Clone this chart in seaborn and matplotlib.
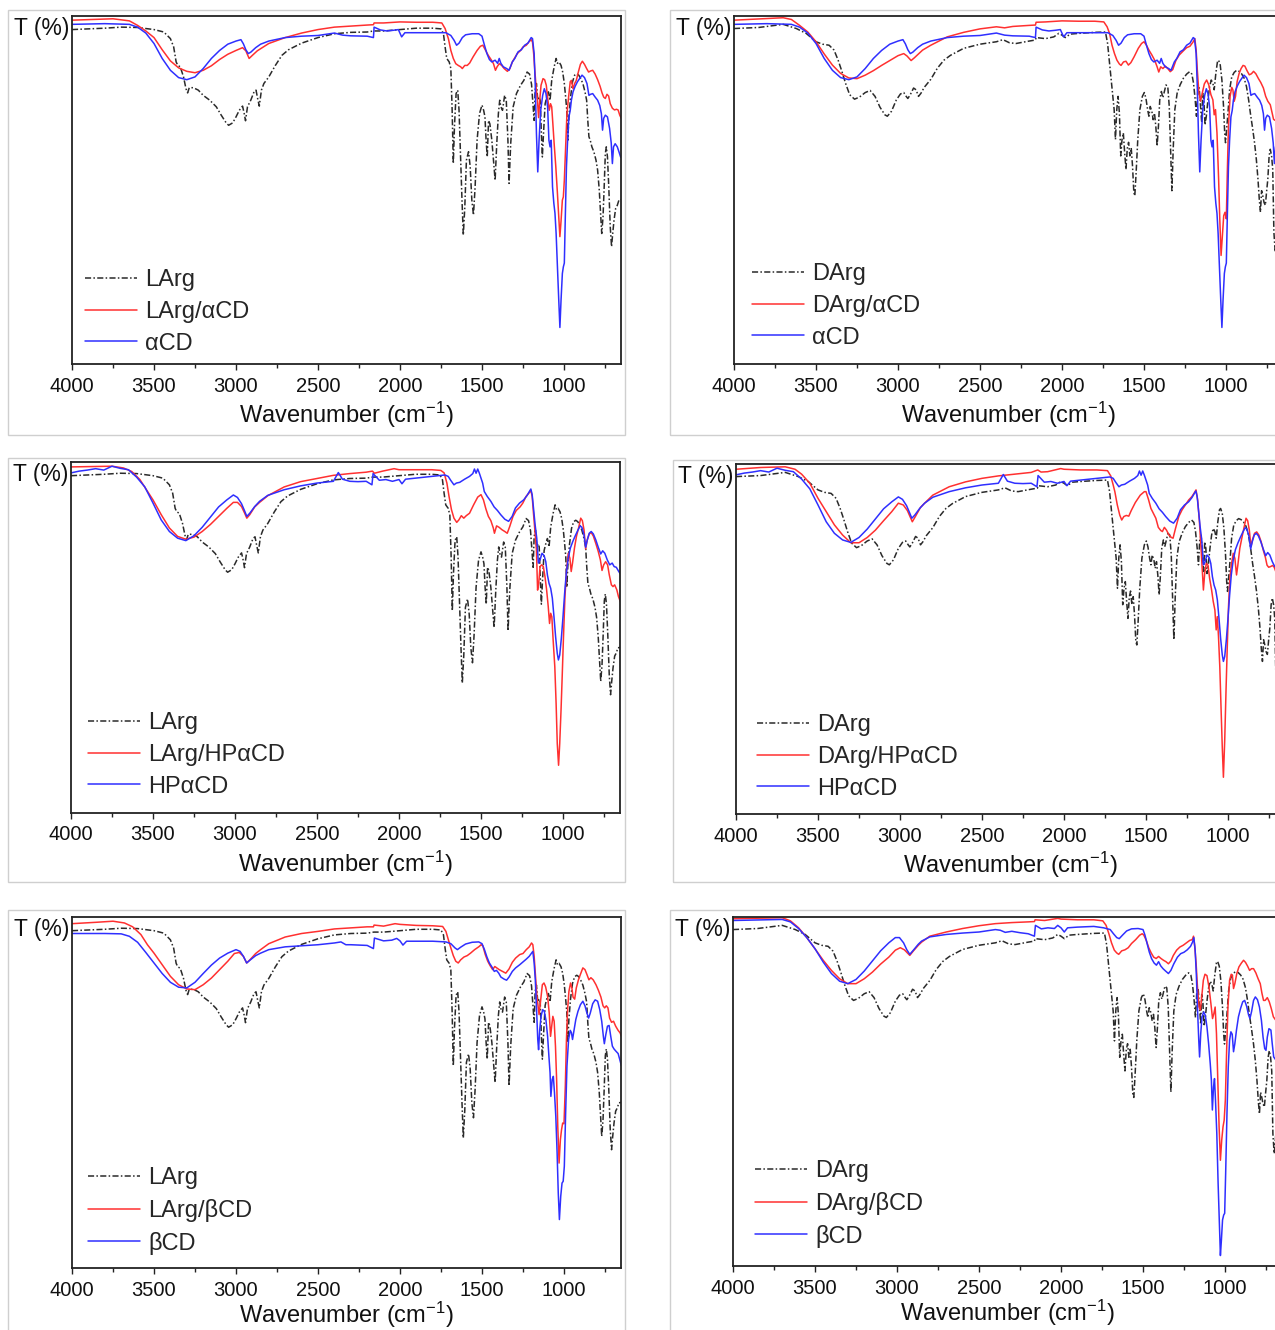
import matplotlib
matplotlib.use("Agg")
import matplotlib.pyplot as plt
import seaborn as sns
from matplotlib.ticker import MultipleLocator
from matplotlib.patches import Rectangle

# ---------------- data (wavenumber cm-1, transmittance in % of panel height) ----------------
LARG = [(4000, 96.1), (3800, 96.5), (3700, 96.8), (3600, 96.7), (3500, 96.1), (3440, 95.4), (3400, 93.5),
        (3380, 91.1), (3365, 86.8), (3355, 85.8), (3340, 85.4), (3320, 82.5), (3305, 79.1), (3295, 77.9),
        (3285, 79.4), (3260, 79.4), (3230, 78.7), (3200, 77.2), (3160, 75.8), (3120, 73.9), (3090, 71.5),
        (3060, 69.3), (3045, 68.6), (3020, 69.3), (3000, 71.0), (2980, 72.9), (2960, 74.1), (2950, 72.0),
        (2942, 69.9), (2930, 73.9), (2910, 75.8), (2890, 78.2), (2878, 78.7), (2868, 76.3), (2858, 74.1),
        (2845, 78.7), (2830, 80.6), (2800, 82.5), (2760, 85.8), (2720, 88.7), (2680, 90.3), (2600, 92.2),
        (2500, 93.8), (2400, 94.9), (2300, 95.3), (2200, 95.4), (2160, 95.7), (2100, 95.7), (2000, 96.1),
        (1900, 96.5), (1800, 96.5), (1750, 96.3), (1735, 94.9), (1725, 91.1), (1715, 87.8), (1700, 86.8),
        (1690, 84.9), (1682, 72.9), (1675, 57.6), (1668, 68.1), (1658, 77.7), (1648, 78.7), (1640, 72.9),
        (1630, 58.6), (1622, 47.1), (1614, 37.0), (1605, 44.9), (1595, 58.6), (1582, 61.0), (1572, 56.7),
        (1562, 47.1), (1552, 42.8), (1542, 50.9), (1530, 64.3), (1515, 72.0), (1500, 74.4), (1490, 72.9),
        (1482, 71.0), (1475, 64.3), (1468, 59.5), (1460, 70.0), (1452, 69.0), (1440, 64.3), (1430, 58.6),
        (1420, 52.8), (1410, 63.3), (1400, 72.0), (1392, 75.8), (1385, 73.9), (1375, 72.9), (1362, 77.2),
        (1352, 75.8), (1342, 64.3), (1335, 51.9), (1325, 63.3), (1310, 73.9), (1290, 77.7), (1265, 80.1),
        (1245, 81.5), (1225, 83.9), (1210, 83.3), (1198, 80.4), (1188, 73.9), (1182, 70.0), (1176, 78.7),
        (1168, 80.6), (1160, 75.8), (1152, 76.7), (1145, 75.8), (1138, 66.2), (1132, 59.5), (1125, 66.2),
        (1115, 74.8), (1105, 76.7), (1095, 78.2), (1085, 75.8), (1075, 81.5), (1060, 85.4), (1048, 87.8),
        (1040, 86.4), (1030, 86.8), (1018, 85.8), (1008, 83.9), (998, 80.6), (990, 76.7), (983, 72.9),
        (977, 64.3), (970, 71.0), (960, 76.7), (948, 81.1), (935, 83.0), (922, 83.4), (910, 83.0),
        (898, 82.0), (885, 80.6), (872, 78.2), (862, 75.8), (855, 70.0), (848, 65.3), (840, 64.3),
        (830, 62.4), (818, 61.0), (805, 58.6), (795, 55.7), (785, 50.0), (777, 43.3), (770, 37.5),
        (762, 42.3), (755, 50.9), (748, 60.5), (742, 62.4), (735, 59.5), (727, 50.9), (718, 39.4),
        (710, 33.7), (703, 37.5), (695, 41.3), (685, 44.7), (675, 45.6), (665, 47.1), (655, 47.1), (650, 47.3)]

DARG = [(4000, 96.4), (3850, 96.7), (3700, 97.6), (3620, 96.4), (3560, 95.0), (3500, 92.6), (3460, 91.9),
        (3420, 91.6), (3390, 90.2), (3365, 87.3), (3345, 84.5), (3320, 80.7), (3295, 77.4), (3265, 76.1),
        (3235, 76.7), (3200, 78.0), (3170, 78.6), (3140, 76.9), (3110, 73.8), (3080, 71.6), (3065, 71.2),
        (3040, 72.6), (3010, 75.9), (2985, 77.6), (2965, 78.0), (2950, 76.9), (2940, 76.3), (2925, 77.4),
        (2905, 79.3), (2890, 78.8), (2875, 76.9), (2860, 77.8), (2840, 79.5), (2800, 81.8), (2760, 85.0),
        (2720, 87.3), (2680, 88.7), (2600, 90.7), (2500, 91.9), (2400, 92.6), (2360, 93.2), (2320, 92.3),
        (2280, 92.1), (2200, 92.8), (2162, 93.1), (2158, 93.8), (2100, 93.5), (2050, 94.0), (2020, 95.0),
        (2000, 94.5), (1980, 93.8), (1950, 94.8), (1900, 95.0), (1800, 95.3), (1735, 95.4), (1722, 92.1),
        (1712, 87.3), (1702, 82.6), (1692, 77.8), (1682, 73.1), (1674, 64.5), (1666, 73.1), (1658, 76.9),
        (1650, 72.1), (1642, 59.8), (1634, 64.5), (1626, 66.4), (1618, 60.7), (1610, 55.9), (1602, 61.9),
        (1594, 63.7), (1586, 59.8), (1578, 62.1), (1570, 56.9), (1562, 49.3), (1556, 48.3), (1548, 55.0),
        (1538, 64.5), (1525, 73.1), (1510, 76.9), (1498, 78.0), (1488, 76.3), (1478, 73.1), (1470, 71.2),
        (1462, 74.0), (1452, 72.6), (1444, 70.2), (1436, 72.1), (1428, 68.3), (1420, 62.6), (1412, 68.3),
        (1404, 75.9), (1394, 78.3), (1385, 76.5), (1376, 78.3), (1366, 80.2), (1355, 79.7), (1346, 74.0),
        (1338, 61.7), (1330, 49.8), (1322, 61.7), (1312, 73.1), (1298, 77.8), (1280, 80.2), (1260, 82.1),
        (1240, 83.3), (1222, 84.0), (1208, 83.3), (1198, 80.7), (1188, 76.0), (1180, 71.2), (1172, 78.6),
        (1164, 79.6), (1155, 73.8), (1148, 69.3), (1142, 77.8), (1135, 75.9), (1128, 68.7), (1120, 71.2),
        (1110, 75.9), (1100, 79.7), (1090, 81.6), (1080, 80.7), (1072, 78.8), (1062, 83.5), (1052, 86.9),
        (1045, 87.3), (1035, 85.9), (1025, 81.6), (1015, 74.0), (1008, 66.4), (1003, 63.6), (995, 68.3),
        (988, 72.1), (978, 78.8), (965, 82.5), (950, 83.8), (935, 84.4), (920, 84.1), (905, 83.4),
        (890, 82.2), (875, 79.7), (862, 75.9), (850, 71.6), (838, 67.8), (826, 63.6), (815, 58.8),
        (805, 53.1), (797, 47.3), (790, 43.6), (783, 49.8), (776, 48.4), (768, 46.4), (760, 45.6),
        (752, 49.8), (745, 53.1), (737, 59.8), (730, 61.7), (722, 59.8), (715, 55.9), (708, 37.9),
        (700, 32.2), (690, 37.9), (675, 43.6), (660, 45.5), (650, 46.0)]

ACD = [(4000, 97.6), (3800, 97.8), (3650, 97.6), (3600, 96.8), (3550, 95.1), (3500, 92.1), (3450, 87.8),
       (3400, 84.4), (3350, 82.3), (3300, 81.7), (3250, 82.5), (3200, 84.9), (3150, 87.8), (3100, 90.1),
       (3050, 91.9), (3000, 92.8), (2970, 93.2), (2955, 92.0), (2940, 90.3), (2925, 89.2), (2910, 89.6),
       (2880, 90.9), (2850, 91.9), (2800, 92.8), (2700, 93.8), (2600, 94.2), (2500, 94.4), (2400, 95.1),
       (2350, 94.5), (2300, 94.3), (2200, 94.2), (2162, 93.8), (2158, 96.8), (2120, 96.0), (2080, 95.7),
       (2040, 95.9), (2010, 96.1), (1990, 94.0), (1970, 95.2), (1900, 95.2), (1800, 95.2), (1720, 95.2),
       (1690, 94.4), (1670, 93.0), (1655, 91.6), (1640, 92.2), (1620, 93.8), (1600, 94.6), (1560, 94.9),
       (1520, 94.9), (1500, 94.2), (1485, 91.6), (1470, 89.2), (1455, 87.5), (1440, 86.8), (1420, 87.3),
       (1405, 86.4), (1395, 87.8), (1385, 86.4), (1370, 85.4), (1350, 84.9), (1335, 84.4), (1315, 86.8),
       (1300, 87.8), (1280, 89.7), (1260, 90.3), (1240, 91.6), (1220, 92.2), (1200, 93.8), (1192, 93.5),
       (1182, 89.2), (1175, 79.6), (1168, 66.2), (1160, 55.2), (1152, 64.3), (1142, 72.9), (1130, 77.2),
       (1120, 79.1), (1110, 77.7), (1100, 73.9), (1092, 64.3), (1085, 62.4), (1078, 64.3), (1070, 50.9),
       (1062, 46.2), (1055, 43.3), (1048, 37.5), (1040, 27.9), (1032, 18.4), (1025, 10.5), (1018, 18.4),
       (1010, 26.0), (1004, 27.9), (998, 29.0), (992, 42.3), (985, 56.7), (978, 64.3), (970, 71.0),
       (962, 72.9), (955, 75.8), (945, 78.2), (932, 79.8), (918, 81.1), (905, 82.0), (890, 83.0),
       (875, 82.3), (860, 80.6), (848, 77.2), (838, 77.5), (825, 77.7), (810, 76.7), (795, 75.8),
       (782, 74.3), (772, 71.9), (765, 67.2), (758, 70.6), (748, 71.5), (735, 71.0), (722, 67.7),
       (712, 63.5), (705, 57.6), (698, 62.4), (688, 63.3), (675, 62.4), (665, 61.0), (655, 59.5), (650, 59.3)]

LARG_ACD = [(4000, 98.8), (3750, 99.2), (3650, 98.6), (3600, 97.3), (3550, 95.7), (3500, 93.8), (3450, 90.3),
            (3400, 87.1), (3350, 85.1), (3300, 84.1), (3250, 83.7), (3200, 84.4), (3150, 85.7), (3100, 87.5),
            (3050, 89.0), (3000, 90.1), (2960, 90.9), (2940, 90.0), (2920, 87.8), (2900, 88.7), (2870, 90.0),
            (2850, 90.6), (2800, 92.1), (2700, 93.8), (2600, 95.1), (2500, 96.1), (2400, 96.8), (2300, 97.1),
            (2200, 97.4), (2162, 97.5), (2158, 98.0), (2100, 98.0), (2000, 98.3), (1900, 98.2), (1800, 98.2),
            (1745, 98.0), (1725, 96.4), (1705, 93.5), (1690, 90.1), (1675, 87.8), (1660, 86.3), (1645, 85.8),
            (1630, 85.4), (1620, 84.9), (1605, 85.8), (1590, 85.8), (1575, 86.5), (1555, 88.2), (1530, 90.1),
            (1510, 91.3), (1495, 91.6), (1480, 90.3), (1462, 88.7), (1445, 87.5), (1430, 86.3), (1418, 84.4),
            (1408, 85.4), (1395, 86.3), (1380, 85.8), (1365, 84.9), (1345, 84.1), (1330, 84.9), (1315, 86.8),
            (1300, 88.0), (1285, 89.2), (1265, 90.1), (1250, 91.1), (1230, 91.6), (1215, 92.5), (1200, 93.2),
            (1192, 92.5), (1185, 89.2), (1178, 84.4), (1170, 79.6), (1162, 75.8), (1155, 70.8), (1148, 75.8),
            (1140, 80.1), (1128, 82.0), (1118, 81.7), (1108, 80.1), (1098, 75.8), (1090, 72.9), (1082, 74.8),
            (1075, 73.9), (1068, 69.1), (1060, 63.3), (1050, 56.7), (1040, 49.0), (1032, 42.3), (1025, 36.6),
            (1018, 41.1), (1010, 47.1), (1004, 48.0), (998, 52.8), (990, 62.4), (982, 72.0), (972, 76.7),
            (962, 81.1), (955, 81.5), (945, 79.1), (935, 80.6), (925, 81.5), (912, 84.0), (900, 86.1),
            (888, 87.0), (875, 86.1), (862, 84.9), (850, 83.9), (838, 84.2), (825, 84.4), (810, 83.3),
            (795, 81.7), (780, 79.8), (768, 77.9), (758, 76.7), (748, 76.3), (738, 77.5), (728, 77.0),
            (718, 74.8), (705, 73.5), (692, 73.0), (680, 73.2), (670, 73.0), (660, 71.5), (650, 70.5)]

DARG_ACD = [(4000, 98.8), (3700, 99.5), (3650, 99.0), (3600, 97.3), (3550, 95.4), (3500, 92.6), (3450, 89.1),
            (3400, 85.9), (3350, 83.5), (3300, 82.2), (3250, 82.0), (3200, 83.0), (3150, 84.3), (3100, 85.8),
            (3050, 87.2), (3000, 88.6), (2965, 89.2), (2945, 88.5), (2920, 87.2), (2900, 88.0), (2850, 90.2),
            (2800, 91.6), (2700, 94.0), (2600, 95.3), (2500, 96.3), (2400, 96.9), (2350, 96.6), (2300, 97.0),
            (2200, 97.3), (2162, 97.4), (2158, 98.2), (2100, 98.3), (2000, 98.6), (1900, 98.5), (1800, 98.5),
            (1745, 98.3), (1725, 96.9), (1710, 95.0), (1695, 91.6), (1680, 89.2), (1665, 87.3), (1650, 86.2),
            (1640, 85.8), (1625, 86.8), (1610, 87.0), (1595, 85.9), (1580, 86.6), (1560, 88.3), (1535, 90.7),
            (1515, 92.1), (1500, 92.6), (1485, 91.6), (1470, 90.2), (1452, 88.8), (1435, 87.3), (1420, 85.4),
            (1410, 83.9), (1398, 85.4), (1385, 84.9), (1370, 85.6), (1355, 84.9), (1340, 84.0), (1325, 84.6),
            (1305, 87.3), (1285, 88.8), (1260, 90.0), (1240, 90.9), (1220, 91.3), (1200, 92.6), (1190, 93.5),
            (1182, 90.2), (1175, 84.5), (1165, 77.8), (1155, 75.5), (1145, 77.8), (1132, 80.5), (1118, 81.6),
            (1105, 80.2), (1092, 77.4), (1080, 75.9), (1072, 71.6), (1064, 73.1), (1055, 66.4), (1045, 53.1),
            (1038, 41.7), (1030, 31.2), (1022, 36.9), (1014, 42.6), (1006, 43.6), (998, 41.7), (992, 55.0),
            (985, 68.3), (975, 76.9), (965, 79.5), (958, 78.8), (950, 75.5), (942, 76.9), (932, 81.2),
            (920, 83.5), (908, 84.9), (896, 85.8), (885, 85.6), (872, 84.3), (858, 83.1), (845, 83.4),
            (832, 84.1), (818, 83.4), (802, 82.0), (788, 80.9), (772, 79.3), (758, 76.9), (745, 75.5),
            (730, 74.5), (718, 72.0), (710, 70.3), (700, 70.0), (680, 70.5), (665, 70.0), (650, 69.5)]

HPACD = [(4000, 96.9), (3950, 97.4), (3900, 97.7), (3850, 98.1), (3800, 97.7), (3750, 98.8), (3700, 98.2),
         (3650, 97.8), (3600, 95.7), (3550, 92.9), (3500, 88.3), (3450, 83.5), (3400, 80.2), (3350, 78.3),
         (3300, 77.6), (3250, 79.0), (3200, 81.4), (3150, 84.3), (3100, 87.2), (3050, 89.2), (3010, 90.6),
         (2985, 89.9), (2960, 88.1), (2940, 85.9), (2928, 84.5), (2910, 85.4), (2880, 87.3), (2850, 88.8),
         (2800, 90.5), (2700, 92.1), (2600, 93.2), (2500, 94.0), (2400, 94.5), (2370, 97.0), (2345, 95.1),
         (2300, 94.5), (2250, 94.4), (2200, 94.5), (2165, 93.5), (2158, 96.7), (2120, 94.8), (2080, 95.0),
         (2040, 94.5), (2000, 95.0), (1982, 93.8), (1960, 95.1), (1900, 95.4), (1800, 95.9), (1720, 96.3),
         (1700, 95.9), (1685, 94.8), (1665, 93.5), (1650, 94.0), (1630, 94.2), (1600, 95.1), (1570, 95.9),
         (1550, 96.7), (1540, 98.0), (1530, 96.8), (1520, 98.0), (1510, 96.8), (1500, 95.4), (1490, 94.0),
         (1480, 91.6), (1462, 90.2), (1440, 88.8), (1420, 87.2), (1400, 86.2), (1380, 85.0), (1355, 83.7),
         (1332, 83.1), (1310, 84.5), (1290, 86.9), (1265, 88.3), (1240, 89.2), (1220, 90.4), (1205, 91.6),
         (1196, 92.3), (1188, 90.7), (1180, 86.9), (1170, 82.1), (1160, 78.3), (1150, 71.2), (1140, 72.1),
         (1128, 74.0), (1115, 73.3), (1105, 71.6), (1095, 67.8), (1085, 65.4), (1075, 64.0), (1065, 61.2),
         (1055, 55.9), (1045, 50.2), (1035, 45.5), (1028, 43.6), (1020, 45.0), (1010, 49.8), (1000, 55.9),
         (990, 62.6), (980, 68.3), (968, 72.6), (955, 75.5), (940, 77.4), (925, 79.0), (910, 80.5),
         (895, 81.8), (885, 81.4), (872, 79.3), (862, 75.7), (852, 77.8), (840, 79.7), (828, 80.2),
         (815, 79.5), (800, 77.8), (785, 75.7), (770, 73.8), (758, 74.7), (745, 74.0), (730, 72.1),
         (715, 70.7), (700, 71.2), (688, 70.2), (675, 70.0), (660, 68.8), (650, 68.1)]

LARG_HPACD = [(4000, 98.6), (3750, 98.8), (3680, 98.3), (3630, 97.3), (3580, 95.0), (3540, 92.1), (3500, 89.2),
              (3450, 85.0), (3400, 81.2), (3350, 78.8), (3300, 78.0), (3250, 78.6), (3200, 80.2), (3150, 82.2),
              (3100, 84.5), (3050, 86.8), (3010, 88.5), (2985, 88.5), (2960, 87.3), (2940, 85.3), (2928, 84.0),
              (2910, 85.0), (2880, 87.2), (2850, 88.5), (2800, 90.4), (2700, 92.9), (2600, 94.4), (2500, 95.3),
              (2400, 96.2), (2300, 96.7), (2200, 97.1), (2162, 97.4), (2150, 96.8), (2100, 97.4), (2030, 98.1),
              (2000, 97.8), (1900, 97.8), (1800, 97.8), (1745, 97.6), (1725, 96.9), (1708, 94.0), (1695, 90.2),
              (1680, 86.4), (1665, 84.0), (1648, 82.8), (1635, 83.5), (1620, 84.7), (1605, 84.0), (1590, 84.7),
              (1570, 85.4), (1545, 87.8), (1520, 90.0), (1500, 90.7), (1485, 89.2), (1470, 86.6), (1455, 84.5),
              (1440, 83.3), (1425, 81.2), (1418, 79.7), (1405, 81.8), (1390, 81.4), (1372, 80.7), (1355, 80.2),
              (1340, 79.7), (1325, 81.6), (1305, 84.5), (1285, 86.2), (1262, 87.2), (1245, 88.3), (1225, 90.2),
              (1205, 91.3), (1196, 91.9), (1188, 90.2), (1180, 85.4), (1170, 79.7), (1162, 75.0), (1155, 63.5),
              (1148, 65.4), (1140, 70.2), (1130, 70.7), (1120, 70.2), (1110, 67.4), (1100, 63.6), (1090, 58.8),
              (1082, 54.0), (1075, 56.9), (1068, 55.9), (1060, 49.2), (1050, 41.7), (1042, 31.2), (1035, 19.8),
              (1027, 13.6), (1020, 19.8), (1012, 29.3), (1005, 38.8), (997, 50.2), (988, 61.7), (978, 69.3),
              (968, 74.0), (958, 72.6), (950, 68.8), (942, 71.2), (930, 75.5), (918, 78.8), (905, 81.2),
              (892, 84.0), (882, 83.3), (872, 80.7), (862, 75.2), (852, 77.8), (840, 79.5), (828, 79.9),
              (815, 78.9), (800, 76.8), (785, 74.5), (772, 72.1), (762, 69.1), (752, 70.7), (740, 71.6),
              (728, 70.7), (718, 67.9), (705, 65.0), (695, 64.5), (685, 65.0), (672, 63.6), (662, 61.7), (650, 60.2)]

DARG_HPACD = [(4000, 98.5), (3850, 99.0), (3700, 99.2), (3640, 98.5), (3600, 97.1), (3550, 94.5), (3500, 90.2),
              (3450, 86.4), (3400, 82.6), (3350, 79.7), (3300, 77.5), (3250, 77.5), (3200, 79.0), (3150, 81.1),
              (3100, 83.8), (3050, 86.4), (3010, 88.8), (2980, 88.3), (2955, 86.7), (2925, 83.5), (2905, 85.1),
              (2875, 87.6), (2850, 88.8), (2800, 91.1), (2700, 93.5), (2600, 94.9), (2500, 95.9), (2400, 96.6),
              (2300, 97.1), (2200, 97.6), (2160, 98.3), (2140, 97.7), (2100, 97.8), (2020, 98.7), (2000, 98.5),
              (1900, 98.3), (1800, 98.3), (1735, 98.1), (1715, 96.6), (1700, 94.0), (1690, 92.1), (1675, 88.3),
              (1660, 85.4), (1648, 84.0), (1635, 85.0), (1620, 85.3), (1605, 85.1), (1590, 86.7), (1565, 89.0),
              (1535, 91.1), (1510, 92.1), (1500, 92.1), (1485, 89.9), (1470, 87.3), (1455, 85.9), (1440, 84.5),
              (1425, 81.9), (1410, 81.0), (1400, 80.7), (1388, 81.9), (1375, 81.1), (1360, 79.7), (1345, 79.0),
              (1335, 78.8), (1320, 81.6), (1300, 85.0), (1280, 86.9), (1260, 88.3), (1240, 89.7), (1220, 90.7),
              (1205, 91.8), (1195, 92.6), (1185, 89.7), (1175, 84.0), (1165, 76.4), (1158, 70.7), (1150, 64.0),
              (1142, 68.8), (1132, 71.6), (1122, 71.1), (1112, 67.3), (1100, 64.0), (1090, 60.7), (1080, 58.3),
              (1072, 52.6), (1065, 56.4), (1058, 50.7), (1050, 42.1), (1042, 29.7), (1035, 19.2), (1028, 10.5),
              (1020, 21.1), (1012, 35.4), (1005, 46.9), (997, 59.2), (988, 67.8), (978, 71.6), (968, 74.5),
              (958, 73.0), (948, 68.3), (940, 71.1), (928, 75.9), (915, 79.0), (902, 81.9), (890, 84.5),
              (880, 83.8), (870, 81.1), (860, 76.4), (850, 78.5), (838, 80.2), (825, 80.6), (812, 79.7),
              (798, 77.8), (785, 75.4), (772, 73.3), (762, 71.1), (752, 70.5), (740, 70.7), (728, 71.0),
              (718, 70.5), (705, 68.8), (690, 66.0), (670, 64.0), (650, 61.1)]

BCD_L = [(4000, 95.3), (3800, 95.3), (3700, 95.2), (3650, 94.5), (3600, 92.8), (3550, 89.9), (3500, 86.9),
         (3450, 83.9), (3400, 81.4), (3350, 80.0), (3300, 79.8), (3250, 81.4), (3200, 83.9), (3150, 86.3),
         (3100, 88.3), (3050, 89.7), (3000, 90.7), (2975, 90.2), (2955, 88.8), (2935, 86.9), (2915, 87.7),
         (2880, 89.0), (2850, 89.7), (2800, 90.7), (2700, 91.5), (2600, 91.8), (2500, 92.1), (2400, 92.6),
         (2360, 92.9), (2330, 92.1), (2300, 92.1), (2200, 91.9), (2162, 91.0), (2156, 94.0), (2100, 93.2),
         (2050, 93.4), (2020, 93.9), (2000, 93.2), (1982, 92.0), (1960, 93.1), (1900, 93.1), (1800, 93.1),
         (1720, 92.9), (1690, 92.4), (1665, 91.2), (1650, 90.7), (1630, 91.4), (1600, 92.3), (1560, 92.8),
         (1520, 92.9), (1500, 92.4), (1485, 90.7), (1470, 88.6), (1455, 86.9), (1440, 85.8), (1425, 84.5),
         (1412, 84.8), (1398, 84.0), (1385, 82.9), (1365, 82.3), (1350, 82.0), (1335, 82.9), (1315, 84.5),
         (1295, 85.5), (1270, 86.4), (1250, 87.2), (1230, 88.0), (1212, 88.8), (1198, 89.7), (1190, 90.2),
         (1182, 86.9), (1175, 82.1), (1168, 74.5), (1160, 65.1), (1155, 62.2), (1148, 67.9), (1140, 71.7),
         (1130, 73.6), (1120, 73.1), (1110, 70.6), (1100, 66.0), (1092, 60.3), (1085, 55.6), (1080, 48.9),
         (1072, 53.7), (1065, 54.6), (1058, 49.9), (1050, 43.2), (1042, 32.8), (1035, 21.4), (1028, 13.8),
         (1020, 20.4), (1012, 24.2), (1005, 24.7), (998, 29.0), (990, 44.2), (982, 57.5), (972, 65.1),
         (962, 67.7), (955, 67.1), (948, 65.1), (940, 67.4), (928, 70.8), (915, 73.1), (900, 75.0),
         (885, 76.0), (872, 74.7), (860, 72.6), (850, 71.2), (840, 72.6), (825, 75.3), (810, 76.4),
         (795, 76.0), (782, 73.6), (770, 70.3), (760, 66.0), (754, 63.9), (745, 66.5), (735, 68.9),
         (725, 69.1), (715, 66.0), (705, 63.2), (695, 62.4), (682, 61.7), (670, 61.1), (660, 59.4), (650, 57.6)]

LARG_BCD = [(4000, 98.1), (3850, 98.5), (3750, 98.8), (3680, 98.3), (3630, 97.2), (3580, 95.0), (3540, 92.1),
            (3500, 89.7), (3450, 86.4), (3400, 83.1), (3350, 80.7), (3300, 79.5), (3250, 79.3), (3200, 80.7),
            (3150, 82.6), (3100, 85.0), (3050, 87.4), (3010, 89.6), (2980, 89.9), (2955, 88.8), (2935, 86.9),
            (2915, 87.8), (2880, 89.6), (2850, 90.7), (2800, 92.4), (2700, 94.3), (2600, 95.3), (2500, 95.9),
            (2400, 96.6), (2300, 96.9), (2200, 97.2), (2162, 97.2), (2158, 97.7), (2100, 97.4), (2030, 98.1),
            (2000, 97.9), (1900, 97.6), (1800, 97.5), (1740, 97.3), (1720, 95.9), (1705, 93.5), (1690, 91.2),
            (1675, 89.0), (1660, 87.4), (1645, 86.9), (1630, 87.8), (1610, 88.6), (1590, 89.0), (1570, 89.7),
            (1545, 90.7), (1520, 91.5), (1505, 92.1), (1495, 91.8), (1480, 89.3), (1465, 87.4), (1450, 86.1),
            (1435, 85.0), (1422, 85.9), (1410, 85.5), (1395, 85.0), (1375, 84.5), (1355, 84.0), (1335, 85.2),
            (1315, 87.1), (1295, 88.3), (1270, 89.3), (1250, 89.6), (1230, 90.7), (1212, 91.5), (1198, 92.6),
            (1190, 92.1), (1182, 88.8), (1175, 84.0), (1165, 77.4), (1152, 72.2), (1142, 76.4), (1132, 80.7),
            (1122, 81.2), (1112, 80.1), (1100, 77.4), (1090, 72.6), (1082, 66.0), (1075, 68.9), (1068, 71.7),
            (1060, 70.3), (1052, 63.2), (1045, 53.7), (1038, 40.4), (1030, 29.9), (1022, 36.6), (1015, 39.4),
            (1008, 41.3), (1000, 41.1), (992, 51.8), (985, 65.1), (978, 73.6), (970, 78.8), (960, 81.2),
            (952, 79.8), (945, 77.2), (935, 76.6), (925, 79.8), (912, 82.1), (898, 83.9), (885, 85.5),
            (872, 85.0), (860, 83.6), (848, 82.1), (836, 82.7), (822, 82.1), (805, 80.7), (790, 79.1),
            (775, 77.2), (762, 74.7), (752, 74.1), (742, 74.7), (732, 74.1), (722, 71.2), (710, 70.0),
            (698, 70.3), (685, 68.9), (670, 67.7), (658, 67.0), (650, 66.0)]

BCD_D = [(4000, 99.0), (3800, 99.2), (3700, 99.3), (3650, 98.6), (3600, 96.7), (3550, 94.1), (3500, 90.9),
         (3450, 87.1), (3400, 83.8), (3350, 81.6), (3300, 80.9), (3250, 82.1), (3200, 84.5), (3150, 87.4),
         (3100, 90.3), (3050, 92.6), (3010, 94.1), (2985, 94.1), (2960, 92.6), (2940, 90.6), (2922, 89.3),
         (2900, 90.5), (2870, 92.2), (2850, 93.1), (2800, 94.3), (2700, 95.0), (2600, 95.4), (2500, 95.7),
         (2400, 96.4), (2370, 96.2), (2340, 95.6), (2300, 95.9), (2250, 95.5), (2200, 95.2), (2162, 94.5),
         (2156, 97.6), (2120, 96.6), (2080, 96.9), (2040, 96.7), (2020, 97.6), (2000, 96.9), (1980, 95.7),
         (1960, 96.9), (1900, 97.1), (1800, 97.3), (1740, 96.9), (1700, 96.4), (1680, 95.2), (1660, 94.1),
         (1645, 93.8), (1625, 94.8), (1600, 96.0), (1570, 96.6), (1530, 96.7), (1500, 96.4), (1488, 94.8),
         (1475, 92.4), (1462, 90.0), (1448, 88.1), (1432, 86.8), (1418, 86.2), (1405, 87.2), (1392, 86.0),
         (1378, 85.2), (1362, 84.5), (1345, 83.8), (1330, 84.7), (1312, 86.6), (1290, 88.5), (1270, 89.5),
         (1250, 89.9), (1230, 90.6), (1210, 91.6), (1198, 92.8), (1190, 94.1), (1182, 90.5), (1175, 83.8),
         (1168, 74.2), (1160, 64.7), (1155, 59.9), (1148, 66.6), (1140, 71.4), (1130, 72.8), (1120, 71.8),
         (1110, 68.5), (1100, 63.7), (1090, 58.0), (1083, 53.2), (1077, 44.7), (1070, 51.3), (1064, 53.7),
         (1058, 47.5), (1050, 38.0), (1042, 23.7), (1035, 13.2), (1028, 3.0), (1022, 7.4), (1015, 13.2),
         (1008, 14.6), (1002, 15.1), (996, 26.5), (988, 43.7), (980, 57.1), (972, 64.7), (964, 67.1),
         (956, 66.4), (948, 61.4), (940, 63.7), (930, 67.6), (918, 71.4), (905, 73.8), (892, 75.7),
         (880, 76.1), (868, 74.4), (856, 71.9), (848, 70.9), (838, 72.9), (826, 76.1), (815, 77.1),
         (802, 76.3), (790, 74.2), (778, 70.4), (768, 65.6), (758, 62.3), (750, 61.8), (742, 65.6),
         (732, 68.0), (720, 67.6), (712, 63.7), (703, 59.9), (690, 59.0), (670, 58.0), (650, 57.1)]

DARG_BCD = [(4000, 99.5), (3700, 99.8), (3650, 98.9), (3600, 96.9), (3550, 94.1), (3500, 90.9), (3450, 87.6),
            (3400, 84.7), (3350, 82.3), (3300, 80.9), (3250, 80.9), (3200, 82.3), (3150, 84.2), (3100, 86.5),
            (3050, 88.5), (3010, 90.5), (2980, 91.2), (2955, 90.6), (2922, 89.0), (2900, 90.3), (2870, 91.9),
            (2850, 92.8), (2800, 94.5), (2700, 95.7), (2600, 96.7), (2500, 97.5), (2400, 98.1), (2300, 98.4),
            (2200, 98.6), (2162, 98.7), (2158, 99.2), (2100, 99.0), (2020, 99.6), (2000, 99.4), (1900, 99.2),
            (1800, 99.2), (1745, 98.9), (1725, 97.6), (1708, 95.2), (1692, 92.6), (1675, 90.5), (1660, 89.7),
            (1648, 89.3), (1630, 90.3), (1610, 90.6), (1590, 91.2), (1570, 92.4), (1545, 93.5), (1520, 94.8),
            (1505, 95.2), (1495, 94.8), (1480, 93.3), (1465, 91.2), (1450, 89.7), (1435, 88.5), (1420, 88.1),
            (1405, 88.7), (1390, 88.1), (1375, 87.6), (1360, 87.2), (1345, 86.6), (1330, 87.4), (1315, 89.0),
            (1295, 90.5), (1275, 91.4), (1255, 91.9), (1235, 92.6), (1215, 93.3), (1200, 93.5), (1192, 94.5),
            (1184, 91.4), (1176, 86.6), (1168, 80.0), (1158, 74.2), (1150, 73.3), (1142, 77.1), (1132, 81.9),
            (1122, 83.6), (1110, 83.2), (1098, 80.0), (1086, 75.2), (1076, 70.9), (1068, 72.3), (1060, 74.2),
            (1052, 66.6), (1044, 53.4), (1036, 39.9), (1028, 30.3), (1020, 36.1), (1012, 39.9), (1005, 41.8),
            (998, 47.5), (990, 61.8), (982, 74.2), (972, 81.9), (962, 83.6), (955, 83.3), (948, 79.5),
            (940, 80.9), (928, 83.8), (915, 85.7), (900, 86.8), (887, 87.6), (875, 87.0), (862, 85.9),
            (850, 84.7), (838, 85.2), (826, 85.2), (812, 84.0), (798, 82.3), (785, 80.9), (775, 78.2),
            (765, 76.1), (755, 76.1), (742, 76.9), (730, 75.7), (718, 73.8), (705, 71.4), (690, 70.4),
            (670, 68.5), (650, 66.6)]

# ---------------- panel layout (pixel boxes of the axes and the grey panel frames) ----------------
W, H = 1275, 1330
PANELS = [
    dict(box=(72, 16, 621.4, 364), frame=(8, 10, 625, 435), lp=3,
         series=[(LARG, "LArg"), (LARG_ACD, "LArg/\u03b1CD"), (ACD, "\u03b1CD")], leg=(0.024, 0.027)),
    dict(box=(734, 16, 1283.4, 364), frame=(670, 10, 1290, 435), lp=3,
         series=[(DARG, "DArg"), (DARG_ACD, "DArg/\u03b1CD"), (ACD, "\u03b1CD")], leg=(0.033, 0.044)),
    dict(box=(71, 462, 620.4, 813), frame=(8, 458, 625, 882), lp=3,
         series=[(LARG, "LArg"), (LARG_HPACD, "LArg/HP\u03b1CD"), (HPACD, "HP\u03b1CD")], leg=(0.031, 0.044)),
    dict(box=(736, 464, 1285.4, 814), frame=(673, 460, 1290, 882), lp=3,
         series=[(DARG, "DArg"), (DARG_HPACD, "DArg/HP\u03b1CD"), (HPACD, "HP\u03b1CD")], leg=(0.038, 0.041)),
    dict(box=(72, 917, 621.4, 1268), frame=(8, 910, 625, 1345), lp=0,
         series=[(LARG, "LArg"), (LARG_BCD, "LArg/\u03b2CD"), (BCD_L, "\u03b2CD")], leg=(0.029, 0.038)),
    dict(box=(733, 917, 1282.4, 1266), frame=(670, 910, 1290, 1345), lp=0,
         series=[(DARG, "DArg"), (DARG_BCD, "DArg/\u03b2CD"), (BCD_D, "\u03b2CD")], leg=(0.040, 0.053)),
]
STYLES = [dict(color="#2a2a2a", lw=1.1, linestyle=(0, (4, 1.5, 1, 1.5))),
          dict(color="#ff3030", lw=1.1, linestyle="-"),
          dict(color="#2f2fff", lw=1.1, linestyle="-")]

sns.set_style("white")
plt.rcParams["font.family"] = ["Liberation Sans", "DejaVu Sans"]
plt.rcParams["mathtext.fontset"] = "custom"
plt.rcParams["mathtext.rm"] = "Liberation Sans"
plt.rcParams["mathtext.it"] = "Liberation Sans:italic"
plt.rcParams["mathtext.bf"] = "Liberation Sans:bold"

fig = plt.figure(figsize=(W / 100, H / 100), dpi=100)

for p in PANELS:
    x0, y0, x1, y1 = p["frame"]
    fig.add_artist(Rectangle((x0 / W, 1 - y1 / H), (x1 - x0) / W, (y1 - y0) / H,
                             transform=fig.transFigure, fill=False, ec="#cfcfcf", lw=1.0))
    l, t, r, b = p["box"]
    ax = fig.add_axes([l / W, 1 - b / H, (r - l) / W, (b - t) / H])
    for (data, label), st in zip(p["series"], STYLES):
        wn = [d[0] for d in data]
        tr = [d[1] for d in data]
        sns.lineplot(x=wn, y=tr, ax=ax, sort=False, estimator=None, label=label, **st)
    ax.set_xlim(4000, 650)
    ax.set_ylim(0, 100)
    ax.set_yticks([])
    ax.set_ylabel("")
    ax.xaxis.set_major_locator(MultipleLocator(500))
    ax.xaxis.set_minor_locator(MultipleLocator(250))
    ax.tick_params(axis="x", which="major", bottom=True, direction="out", length=4, width=1.0,
                   color="#222222", labelsize=14.5, pad=5, labelcolor="#111111")
    ax.tick_params(axis="x", which="minor", bottom=True, direction="out", length=3, width=1.0, color="#222222")
    for sp in ax.spines.values():
        sp.set_color("#222222")
        sp.set_linewidth(1.3)
    ax.set_xlabel("Wavenumber (cm$^{\\mathregular{-1}}$)", fontsize=17, labelpad=p["lp"], color="#111111")
    ax.text(-0.004, 0.997, "T (%)", transform=ax.transAxes, ha="right", va="top", fontsize=16.5,
            color="#111111")
    ax.legend(loc="lower left", bbox_to_anchor=p["leg"], frameon=False, fontsize=17,
              handlelength=2.2, handletextpad=0.35, labelspacing=0.41, borderpad=0, borderaxespad=0)

fig.savefig("out.png", dpi=100)
